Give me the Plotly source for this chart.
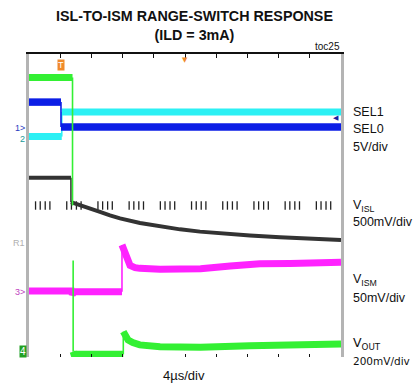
import plotly.graph_objects as go

# ---------------- data (time in µs, level in screen divisions) ----------------
TIME_RANGE = [0, 40]          # 4 µs/div, 10 divisions
LEVEL_RANGE = [0, 8]          # 8 vertical divisions
DIV_TIMES = [4, 8, 12, 16, 20, 24, 28, 32, 36]
BOTTOM_TICK_TIMES = [4, 8, 12, 20, 24, 28, 32, 36]
MINOR_OFFSETS = [0.84, 1.44, 2.08, 2.68]   # µs inside each division (centre-axis ticks)
CENTER_LEVEL = 4.0
TRIGGER_TIME = 4.1
TRIGGER_POS_TIME = 20
SEL_REF_TIME = 39.4
SEL_REF_LEVEL = 6.31

# Channel 2: SEL1 (cyan)
sel1_t = [0, 4.2, 4.2, 40]
sel1_v = [5.82, 5.82, 6.47, 6.47]

# Channel 1: SEL0 (blue)
sel0_t = [0, 4.1, 4.1, 40]
sel0_v = [6.73, 6.73, 6.07, 6.07]

# V_ISL (black)
visl_t = [0, 5.38, 5.38, 5.64, 6.54, 7.82, 9.10, 10.38, 11.67, 14.23, 16.79, 19.36,
          21.92, 24.49, 28.33, 32.18, 36.03, 40]
visl_v = [4.73, 4.73, 4.09, 4.07, 4.00, 3.92, 3.83, 3.74, 3.66, 3.54, 3.45, 3.37,
          3.31, 3.26, 3.21, 3.16, 3.12, 3.09]

# V_ISM (magenta)
vism_t = [0, 5.45, 5.55, 5.68, 5.80, 11.92, 11.92, 12.1, 12.4, 12.95, 13.6, 14.2,
          16.8, 19.4, 22.0, 25.8, 29.6, 33.5, 40]
vism_v = [1.74, 1.74, 1.65, 1.69, 1.72, 1.72, 2.96, 2.85, 2.62, 2.42, 2.36, 2.34,
          2.32, 2.31, 2.33, 2.40, 2.46, 2.47, 2.50]

# V_OUT (green)
vout_t = [0, 5.58, 5.58, None, 5.66, 5.66, 5.77, 12.09, 12.09, 12.3, 12.7, 13.3,
          14.2, 16.8, 19.4, 22.0, 28.3, 34.7, 40]
vout_v = [7.38, 7.38, 4.0, None, 2.55, 0.14, 0.07, 0.07, 0.67, 0.55, 0.45, 0.38,
          0.32, 0.27, 0.25, 0.26, 0.30, 0.33, 0.34]

CHANNELS = [
    # (times, levels, colour, band width)
    (sel1_t, sel1_v, "#2cf0f4", 7),
    (sel0_t, sel0_v, "#0c1ee6", 7.5),
    (visl_t, visl_v, "#333333", 4),
    (vism_t, vism_v, "#ff22ff", 7),
    (vout_t, vout_v, "#33f033", 7),
]


def split_edges(ts, vs):
    """Separate vertical edges (thin) from the noisy bands (thick)."""
    tx, ty, ex, ey = [], [], [], []
    for i in range(len(ts) - 1):
        a, b = ts[i], ts[i + 1]
        if a is None or b is None:
            continue
        if a == b:
            ex += [a, b, None]
            ey += [vs[i], vs[i + 1], None]
        else:
            if tx and tx[-1] == a and ty[-1] == vs[i]:
                tx.append(b)
                ty.append(vs[i + 1])
            else:
                if tx:
                    tx.append(None)
                    ty.append(None)
                tx += [a, b]
                ty += [vs[i], vs[i + 1]]
    return tx, ty, ex, ey


fig = go.Figure()

# centre axis minor ticks
minor_x = [d * 4 + off for d in range(10) for off in MINOR_OFFSETS]
fig.add_trace(go.Scatter(
    x=minor_x, y=[CENTER_LEVEL] * len(minor_x), mode="markers",
    marker=dict(symbol="line-ns", size=6, line=dict(width=1.3, color="#222222")),
    hoverinfo="skip", showlegend=False))

for ts, vs, col, w in CHANNELS:
    tx, ty, ex, ey = split_edges(ts, vs)
    fig.add_trace(go.Scatter(x=tx, y=ty, mode="lines",
                             line=dict(color=col, width=w),
                             hoverinfo="skip", showlegend=False))
    fig.add_trace(go.Scatter(x=ex, y=ey, mode="lines",
                             line=dict(color=col, width=1.6),
                             hoverinfo="skip", showlegend=False))

# dummy trace for the top axis
fig.add_trace(go.Scatter(x=TIME_RANGE, y=[None, None], xaxis="x2", mode="lines",
                         hoverinfo="skip", showlegend=False))

fig.update_layout(
    width=417, height=387,
    margin=dict(l=29, r=76, t=54, b=30),
    paper_bgcolor="white", plot_bgcolor="white",
    showlegend=False,
    font=dict(family="Liberation Sans, Arial, sans-serif", color="#111111"),
    xaxis=dict(range=TIME_RANGE, showgrid=False, zeroline=False, showline=False,
               tickvals=BOTTOM_TICK_TIMES, ticks="inside", ticklen=3, tickwidth=1.2,
               tickcolor="#111111", showticklabels=False, fixedrange=True),
    xaxis2=dict(range=TIME_RANGE, overlaying="x", side="top", showgrid=False,
                zeroline=False, showline=True, linecolor="#111111", linewidth=1.5,
                tickvals=DIV_TIMES, ticks="inside", ticklen=4, tickwidth=1.2,
                tickcolor="#111111", showticklabels=False, fixedrange=True),
    yaxis=dict(range=LEVEL_RANGE, showgrid=False, zeroline=False, showline=True,
               mirror=True, linecolor="#b4b4b4", linewidth=2.5, ticks="",
               showticklabels=False, fixedrange=True),
)

ann = []
ann.append(dict(text="<b>ISL-TO-ISM RANGE-SWITCH RESPONSE</b><br><b>(ILD = 3mA)</b>",
                xref="paper", yref="paper", x=0.532, y=1.094, xanchor="center",
                yanchor="middle", showarrow=False,
                font=dict(family="Liberation Sans Narrow, Arial Narrow, Liberation Sans",
                          size=14.3, color="#111111")))
ann.append(dict(text="toc25", xref="paper", yref="paper", x=1.003, y=1.024,
                xanchor="right", yanchor="middle", showarrow=False,
                font=dict(size=10)))
ann.append(dict(text="4µs/div", xref="paper", yref="paper", x=0.496, y=-0.061,
                xanchor="center", yanchor="middle", showarrow=False,
                font=dict(size=13)))

right = [
    ("SEL1", 0.810, 12.5, None),
    ("SEL0", 0.754, 12.5, None),
    ("5V/div", 0.694, 12.5, None),
    ("V<sub>ISL</sub>", 0.500, 12.5, None),
    ("500mV/div", 0.445, 12.5, None),
    ("V<sub>ISM</sub>", 0.255, 12.5, None),
    ("50mV/div", 0.196, 12.5, None),
    ("V<sub>OUT</sub>", 0.045, 12.5, "DejaVu Sans"),
    ("200mV/div", -0.013, 10.5, "DejaVu Sans"),
]
for txt, yy, sz, fam in right:
    f = dict(size=sz)
    if fam:
        f["family"] = fam
    ann.append(dict(text=txt, xref="paper", yref="paper", x=1.032, y=yy,
                    xanchor="left", yanchor="middle", showarrow=False, font=f))

# channel markers on the left
left = [
    ("1>", 0.755, "#2a3cc0"),
    ("2", 0.720, "#1a9a9a"),
    ("R1", 0.375, "#b0b0b0"),
    ("3>", 0.215, "#c040c0"),
]
for txt, yy, col in left:
    ann.append(dict(text=txt, xref="paper", yref="paper", x=-0.005, y=yy,
                    xanchor="right", yanchor="middle", showarrow=False,
                    font=dict(size=9, color=col)))
ann.append(dict(text="4", xref="paper", yref="paper", x=-0.008, y=0.018,
                xanchor="right", yanchor="middle", showarrow=False,
                bgcolor="#22a022", borderpad=0,
                font=dict(size=10, color="white")))
# trigger markers
ann.append(dict(text="T", xref="x", yref="paper", x=TRIGGER_TIME, y=0.964,
                xanchor="center", yanchor="middle", showarrow=False,
                bgcolor="#f08a2a", borderpad=0,
                font=dict(size=9, color="white")))
ann.append(dict(text="▼", xref="x", yref="paper", x=TRIGGER_POS_TIME, y=1.0,
                xanchor="center", yanchor="top", showarrow=False,
                font=dict(size=7, color="#f08a2a", family="DejaVu Sans")))
ann.append(dict(text="◀", xref="x", yref="y", x=SEL_REF_TIME, y=SEL_REF_LEVEL,
                xanchor="center", yanchor="middle", showarrow=False,
                font=dict(size=7, color="#1a20a0", family="DejaVu Sans")))
fig.update_layout(annotations=ann)

fig.write_html("out.html", config={"displayModeBar": False},
               post_script="document.body.style.margin='0';document.body.style.padding='0';")
